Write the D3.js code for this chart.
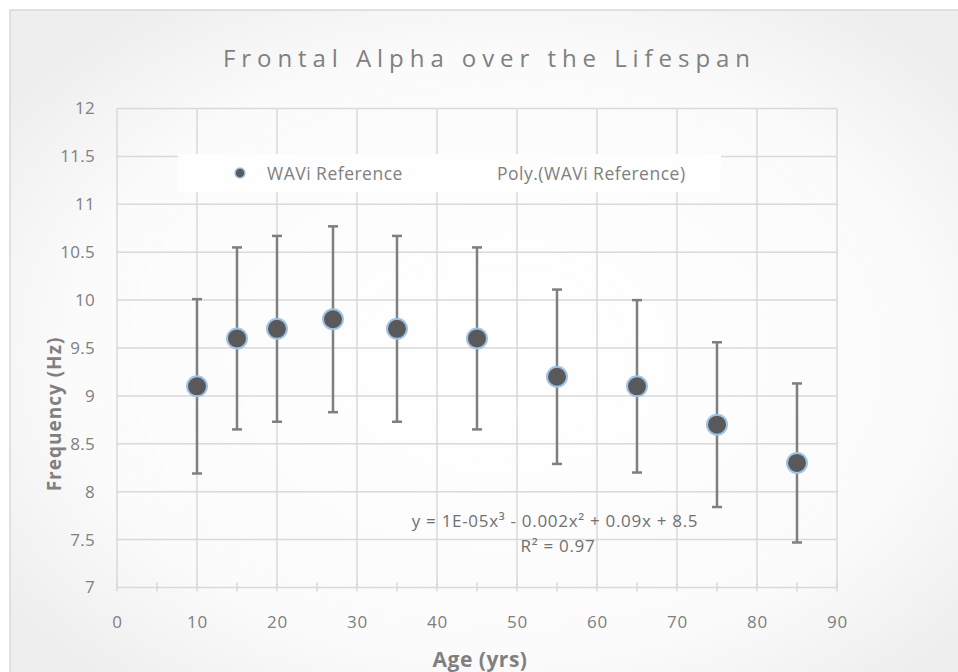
<!DOCTYPE html>
<html>
<head>
<meta charset="utf-8">
<script src="https://cdn.jsdelivr.net/npm/d3@7"></script>
<style>
  html, body { margin: 0; padding: 0; background: #fff; }
  svg { display: block; font-family: "Open Sans", "Liberation Sans", sans-serif; }
</style>
</head>
<body>
<svg id="chart" width="958" height="672"></svg>
<script>
// ---- data ----
const ages = [10, 15, 20, 27, 35, 45, 55, 65, 75, 85];
const frequencies = [9.1, 9.6, 9.7, 9.8, 9.7, 9.6, 9.2, 9.1, 8.7, 8.3];
const errors = [0.91, 0.95, 0.97, 0.97, 0.97, 0.95, 0.91, 0.9, 0.86, 0.83];
const xTicks = [0, 10, 20, 30, 40, 50, 60, 70, 80, 90];
const xAllTicks = [0, 5, 10, 15, 20, 25, 30, 35, 40, 45, 50, 55, 60, 65, 70, 75, 80, 85, 90];
const yTicks = [7, 7.5, 8, 8.5, 9, 9.5, 10, 10.5, 11, 11.5, 12];
const titleText = "Frontal Alpha over the Lifespan";
const xTitle = "Age (yrs)";
const yTitle = "Frequency (Hz)";
const seriesName = "WAVi Reference";
const trendName = "Poly.(WAVi Reference)";
const equationText = "y = 1E-05x³ - 0.002x² + 0.09x + 8.5";
const r2Text = "R² = 0.97";

const svg = d3.select("#chart");
const W = 958, H = 672;
const plot = { left: 117, right: 837, top: 108.5, bottom: 587.5 };
const grey = "#808080";
const gridCol = "#d9d9d9";

// background with radial gradient
const defs = svg.append("defs");
const grad = defs.append("radialGradient").attr("id", "bg")
  .attr("cx", "50%").attr("cy", "50%").attr("r", "62%");
grad.append("stop").attr("offset", "0%").attr("stop-color", "#ffffff");
grad.append("stop").attr("offset", "70%").attr("stop-color", "#fbfbfb");
grad.append("stop").attr("offset", "100%").attr("stop-color", "#eeeeee");

svg.append("rect").attr("x", 0).attr("y", 0).attr("width", W).attr("height", H).attr("fill", "#fff");
svg.append("rect").attr("x", 10).attr("y", 10).attr("width", W + 20).attr("height", H + 20)
  .attr("fill", "url(#bg)").attr("stroke", gridCol).attr("stroke-width", 1.5);

const x = d3.scaleLinear().domain([0, 90]).range([plot.left, plot.right]);
const y = d3.scaleLinear().domain([7, 12]).range([plot.bottom, plot.top]);

// gridlines
const g = svg.append("g");
g.selectAll("line.hgrid").data(yTicks).join("line")
  .attr("x1", plot.left).attr("x2", plot.right)
  .attr("y1", d => y(d)).attr("y2", d => y(d))
  .attr("stroke", gridCol).attr("stroke-width", 1.5);
g.selectAll("line.vgrid").data(xTicks).join("line")
  .attr("x1", d => x(d)).attr("x2", d => x(d))
  .attr("y1", plot.top).attr("y2", plot.bottom)
  .attr("stroke", gridCol).attr("stroke-width", 1.5);
// tick marks crossing the x axis
g.selectAll("line.tick5").data(xAllTicks).join("line")
  .attr("x1", d => x(d)).attr("x2", d => x(d))
  .attr("y1", plot.bottom - 5).attr("y2", plot.bottom + 4)
  .attr("stroke", gridCol).attr("stroke-width", 1.5);

// axes labels via d3 axes
const yAxis = svg.append("g").attr("transform", `translate(${plot.left - 22},0)`)
  .call(d3.axisLeft(y).tickValues(yTicks).tickSize(0).tickPadding(0).tickFormat(d3.format("")));
yAxis.select(".domain").remove();
yAxis.selectAll("text").attr("fill", grey).attr("font-size", 17)
  .attr("font-family", "Open Sans, sans-serif").attr("letter-spacing", 0.3);

const xAxis = svg.append("g").attr("transform", `translate(0,${plot.bottom + 28})`)
  .call(d3.axisBottom(x).tickValues(xTicks).tickSize(0).tickPadding(0).tickFormat(d3.format("")));
xAxis.select(".domain").remove();
xAxis.selectAll("text").attr("fill", grey).attr("font-size", 17)
  .attr("font-family", "Open Sans, sans-serif").attr("letter-spacing", 0.8);

// legend box
svg.append("rect").attr("x", 178).attr("y", 154).attr("width", 543).attr("height", 38)
  .attr("fill", "#fefefe");
svg.append("circle").attr("cx", 240).attr("cy", 173).attr("r", 5)
  .attr("fill", "#595959").attr("stroke", "#9dc3e6").attr("stroke-width", 1.5);
svg.append("text").attr("x", 267).attr("y", 180).attr("font-size", 17.5)
  .attr("letter-spacing", 0.5).attr("fill", grey).text(seriesName);
svg.append("text").attr("x", 497).attr("y", 180).attr("font-size", 17.5)
  .attr("letter-spacing", 0.5).attr("fill", grey).text(trendName);

// error bars
const eb = svg.append("g");
const data = ages.map((a, i) => ({ a, f: frequencies[i], e: errors[i] }));
eb.selectAll("line.v").data(data).join("line")
  .attr("x1", d => x(d.a)).attr("x2", d => x(d.a))
  .attr("y1", d => y(d.f + d.e)).attr("y2", d => y(d.f - d.e))
  .attr("stroke", "#7f7f7f").attr("stroke-width", 2.5);
eb.selectAll("line.t").data(data).join("line")
  .attr("x1", d => x(d.a) - 5).attr("x2", d => x(d.a) + 5)
  .attr("y1", d => y(d.f + d.e)).attr("y2", d => y(d.f + d.e))
  .attr("stroke", "#7f7f7f").attr("stroke-width", 2.5);
eb.selectAll("line.b").data(data).join("line")
  .attr("x1", d => x(d.a) - 5).attr("x2", d => x(d.a) + 5)
  .attr("y1", d => y(d.f - d.e)).attr("y2", d => y(d.f - d.e))
  .attr("stroke", "#7f7f7f").attr("stroke-width", 2.5);

// markers
svg.append("g").selectAll("circle").data(data).join("circle")
  .attr("cx", d => x(d.a)).attr("cy", d => y(d.f)).attr("r", 10)
  .attr("fill", "#595959").attr("stroke", "#9dc3e6").attr("stroke-width", 2);

// trendline equation
svg.append("text").attr("x", 555).attr("y", 527).attr("text-anchor", "middle")
  .attr("font-size", 17).attr("fill", "#707070").attr("letter-spacing", 0.7).text(equationText);
svg.append("text").attr("x", 558).attr("y", 552).attr("text-anchor", "middle")
  .attr("font-size", 17).attr("fill", "#707070").attr("letter-spacing", 0.7).text(r2Text);

// title: letter spacing calibrated to span the same width as the reference
const title = svg.append("text").attr("x", 223).attr("y", 67).attr("font-size", 24)
  .attr("fill", grey).text(titleText);
const nat = title.node().getComputedTextLength();
const targetW = 527;
const ls = Math.max(0, (targetW - nat) / (titleText.length - 1));
title.attr("letter-spacing", ls);

// axis titles
svg.append("text").attr("x", 480).attr("y", 667).attr("text-anchor", "middle")
  .attr("font-size", 21).attr("font-weight", "bold").attr("letter-spacing", 0.5)
  .attr("fill", grey).text(xTitle);
svg.append("text").attr("transform", "translate(61,414) rotate(-90)")
  .attr("text-anchor", "middle").attr("font-size", 19).attr("font-weight", "bold")
  .attr("letter-spacing", 1).attr("fill", grey).text(yTitle);
</script>
</body>
</html>
